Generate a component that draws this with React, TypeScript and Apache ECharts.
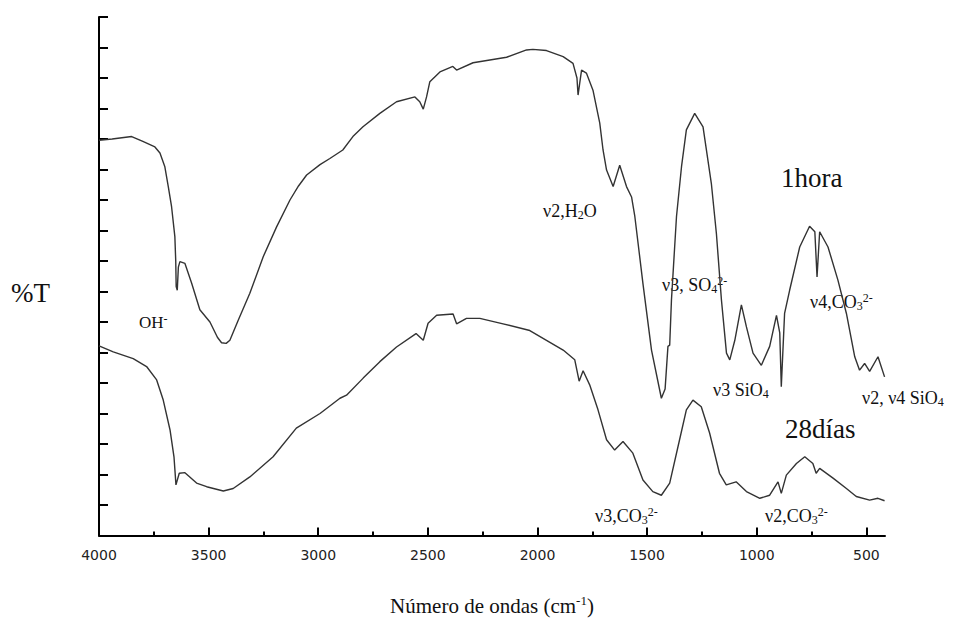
import React, { useEffect, useRef } from "react";
import * as echarts from "echarts";

// Wavenumbers (cm-1) and %T for the 1 hour spectrum
const wave1h = [4000, 3940, 3851, 3800, 3745, 3722, 3700, 3684, 3669, 3654, 3650, 3648, 3643, 3638, 3631, 3608, 3577, 3540, 3494, 3460, 3441, 3420, 3403, 3365, 3312, 3251, 3190, 3129, 3090, 3053, 2992, 2947, 2888, 2842, 2796, 2719, 2643, 2559, 2537, 2521, 2506, 2491, 2445, 2386, 2369, 2294, 2141, 2050, 2021, 1959, 1883, 1838, 1820, 1815, 1808, 1799, 1777, 1747, 1716, 1701, 1685, 1655, 1625, 1594, 1571, 1556, 1519, 1480, 1435, 1418, 1405, 1397, 1389, 1366, 1343, 1321, 1283, 1245, 1207, 1184, 1161, 1138, 1123, 1100, 1070, 1047, 1017, 979, 941, 910, 895, 888, 873, 850, 804, 759, 735, 725, 713, 675, 630, 591, 553, 531, 508, 485, 447, 417];
const trans1h = [64.8, 65.0, 65.4, 64.6, 63.7, 62.7, 60.5, 57.2, 53.9, 49.0, 45.0, 40.8, 40.2, 44.0, 44.9, 44.6, 41.3, 37.0, 35.0, 32.5, 31.6, 31.5, 32.0, 35.3, 39.7, 45.7, 50.6, 55.0, 57.3, 59.1, 60.8, 61.8, 63.2, 65.4, 67.0, 69.2, 71.1, 71.9, 71.1, 69.9, 71.9, 74.4, 76.0, 76.9, 76.3, 77.5, 78.4, 79.6, 79.7, 79.5, 78.5, 77.4, 75.0, 72.2, 74.0, 76.3, 75.8, 73.0, 67.6, 63.2, 59.9, 57.2, 60.7, 57.2, 55.5, 52.3, 41.3, 30.4, 22.5, 24.0, 31.0, 31.2, 38.6, 52.3, 60.5, 66.5, 69.2, 67.0, 57.7, 49.5, 38.6, 29.9, 28.8, 32.0, 37.8, 34.2, 29.9, 27.9, 31.0, 36.1, 33.2, 24.4, 36.4, 40.2, 47.3, 50.7, 49.8, 42.4, 49.8, 47.3, 41.9, 36.4, 29.3, 27.1, 28.2, 26.9, 29.3, 26.0];

// Wavenumbers (cm-1) and %T for the 28 day spectrum
const wave28d = [4000, 3935, 3844, 3783, 3737, 3707, 3676, 3658, 3649, 3634, 3608, 3555, 3509, 3433, 3388, 3312, 3206, 3100, 2992, 2901, 2871, 2795, 2719, 2643, 2554, 2521, 2499, 2460, 2385, 2369, 2324, 2263, 2157, 2035, 1959, 1883, 1830, 1810, 1792, 1762, 1724, 1685, 1648, 1610, 1565, 1519, 1474, 1435, 1397, 1352, 1321, 1291, 1253, 1215, 1170, 1139, 1094, 1047, 986, 941, 903, 888, 865, 819, 781, 744, 729, 713, 652, 591, 546, 485, 447, 417];
const trans28d = [31.1, 30.1, 29.0, 27.7, 25.5, 22.2, 17.3, 12.9, 8.3, 10.2, 10.3, 8.6, 8.0, 7.3, 7.7, 9.6, 12.9, 17.6, 20.0, 22.5, 23.0, 25.8, 28.5, 30.9, 33.1, 32.0, 34.8, 36.1, 36.3, 34.7, 35.6, 35.6, 34.7, 33.6, 32.0, 30.4, 28.8, 25.3, 27.0, 24.7, 20.6, 15.7, 14.0, 15.4, 13.5, 9.1, 7.2, 6.6, 8.6, 15.7, 20.6, 22.2, 21.1, 16.8, 10.2, 8.3, 8.8, 7.2, 6.1, 6.6, 8.8, 6.9, 9.9, 11.8, 12.9, 11.8, 10.2, 11.0, 9.4, 7.7, 6.4, 5.8, 6.1, 5.7];

const majorTicks = [4000, 3500, 3000, 2500, 2000, 1500, 1000, 500];
const minorTicks = [3750, 3250, 2750, 2250, 1750, 1250, 750];

const SERIF = "'Liberation Serif', 'DejaVu Serif', serif";

const rich = {
  m: { fontSize: 18, fontFamily: SERIF, lineHeight: 20, verticalAlign: "middle", fill: "#111" },
  sb: { fontSize: 12, fontFamily: SERIF, lineHeight: 11, verticalAlign: "bottom", fill: "#111" },
  sp: { fontSize: 12, fontFamily: SERIF, lineHeight: 11, verticalAlign: "top", fill: "#111" },
  o: { fontSize: 17, fontFamily: SERIF, lineHeight: 19, verticalAlign: "middle", fill: "#111" },
  big: { fontSize: 27, fontFamily: SERIF, lineHeight: 30, verticalAlign: "middle", fill: "#111" },
  ttl: { fontSize: 21, fontFamily: SERIF, lineHeight: 25, verticalAlign: "middle", fill: "#111" },
  tsp: { fontSize: 13, fontFamily: SERIF, lineHeight: 12, verticalAlign: "top", fill: "#111" },
};

function label(x: number, y: number, text: string, align: string = "left") {
  return {
    type: "text",
    x,
    y,
    silent: true,
    style: { text, rich, align, verticalAlign: "middle", fill: "#111" },
  };
}

export default function App() {
  const ref = useRef<HTMLDivElement>(null);
  useEffect(() => {
    if (!ref.current) return;
    const chart = echarts.init(ref.current, undefined, { renderer: "svg" });
    const lineStyle = { color: "#333", width: 1.4 };
    chart.setOption({
      animation: false,
      backgroundColor: "#fff",
      grid: { left: 99, right: 78, top: 17, bottom: 83.5 },
      xAxis: [
        {
          type: "value",
          inverse: true,
          min: 415,
          max: 4000,
          position: "bottom",
          axisLine: { show: true, lineStyle: { color: "#000", width: 2 } },
          axisTick: { show: true, inside: true, length: 8, customValues: majorTicks, lineStyle: { color: "#000", width: 2 } },
          axisLabel: {
            show: true,
            customValues: majorTicks,
            margin: 12,
            color: "#222",
            fontFamily: "'DejaVu Sans', sans-serif",
            fontSize: 14,
            formatter: (v: number) => String(v),
          },
          splitLine: { show: false },
        },
        {
          type: "value",
          inverse: true,
          min: 415,
          max: 4000,
          position: "bottom",
          axisLine: { show: false },
          axisTick: { show: true, inside: true, length: 4, customValues: minorTicks, lineStyle: { color: "#000", width: 2 } },
          axisLabel: { show: false },
          splitLine: { show: false },
        },
      ],
      yAxis: {
        type: "value",
        min: 0,
        max: 85,
        interval: 5,
        axisLine: { show: true, lineStyle: { color: "#000", width: 2 } },
        axisTick: { show: true, inside: true, length: 9, lineStyle: { color: "#000", width: 2 } },
        axisLabel: { show: false },
        splitLine: { show: false },
      },
      series: [
        {
          name: "1hora",
          type: "line",
          xAxisIndex: 0,
          showSymbol: false,
          data: wave1h.map((w, i) => [w, trans1h[i]]),
          lineStyle,
        },
        {
          name: "28días",
          type: "line",
          xAxisIndex: 0,
          showSymbol: false,
          data: wave28d.map((w, i) => [w, trans28d[i]]),
          lineStyle,
        },
      ],
      graphic: [
        label(11, 293, "{big|%T}"),
        label(139, 322, "{o|OH}{sp|-}"),
        label(543, 211, "{m|ν2,H}{sb|2}{m|O}"),
        label(662, 285, "{m|ν3, SO}{sb|4}{sp|2-}"),
        label(810, 302, "{m|ν4,CO}{sb|3}{sp|2-}"),
        label(713, 390, "{m|ν3 SiO}{sb|4}"),
        label(862, 398, "{m|ν2, ν4 SiO}{sb|4}"),
        label(781, 178, "{big|1hora}"),
        label(785, 429, "{big|28días}"),
        label(595, 516, "{m|ν3,CO}{sb|3}{sp|2-}"),
        label(765, 516, "{m|ν2,CO}{sb|3}{sp|2-}"),
        label(492, 606, "{ttl|Número de ondas (cm}{tsp|-1}{ttl|)}", "center"),
      ],
    });
    return () => chart.dispose();
  }, []);
  return (
    <div
      ref={ref}
      style={{ position: "absolute", left: 0, top: 0, width: 963, height: 619, background: "#fff" }}
    />
  );
}
